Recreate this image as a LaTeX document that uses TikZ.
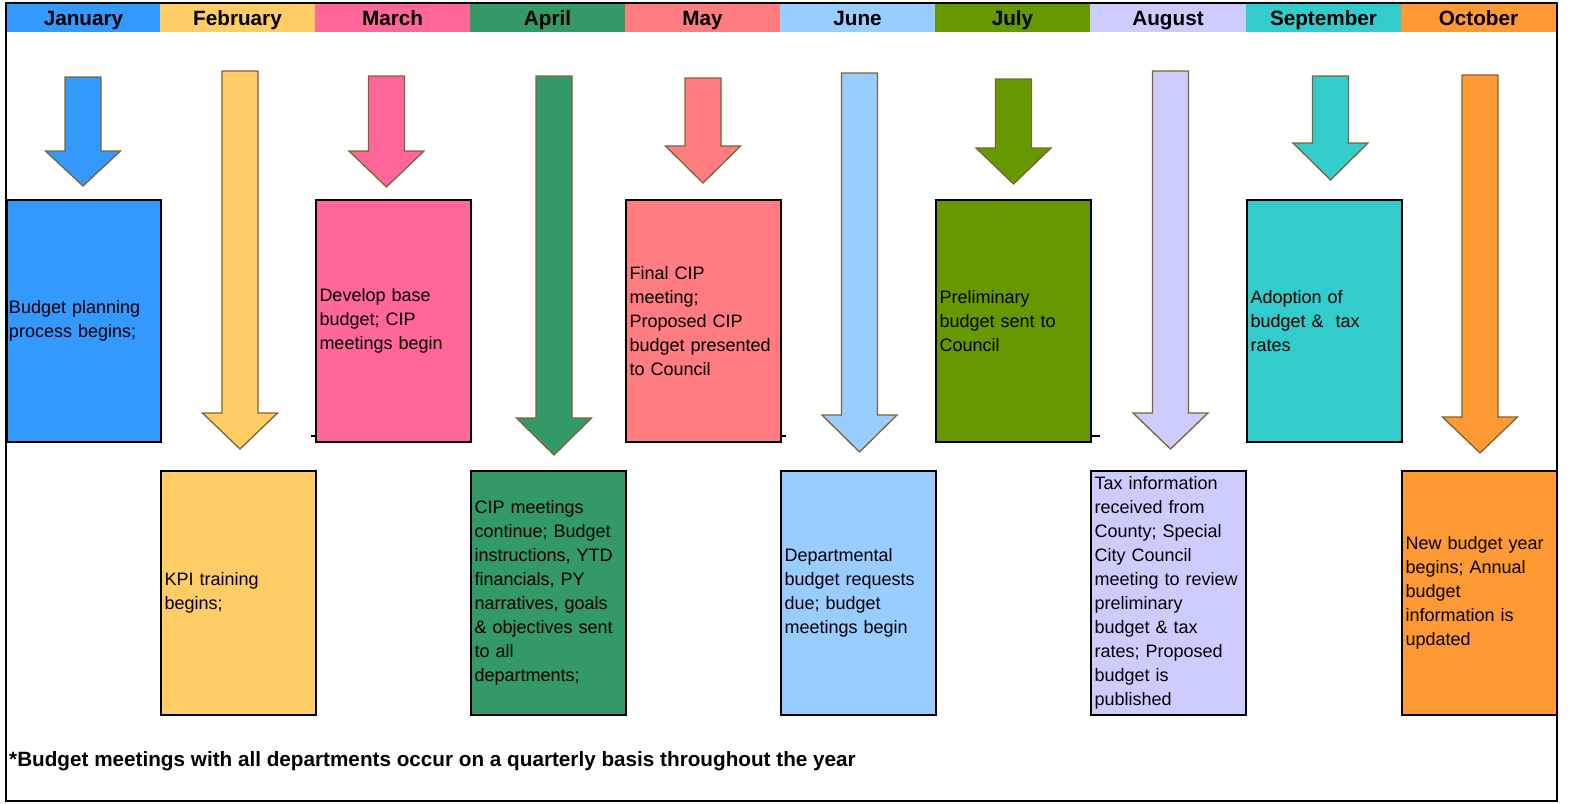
\documentclass[tikz,border=0pt]{standalone}
\usepackage{fontspec}
\setmainfont{Liberation Sans}
\definecolor{janc}{HTML}{3399FF}
\definecolor{febc}{HTML}{FFCC66}
\definecolor{marc}{HTML}{FF6699}
\definecolor{aprc}{HTML}{339966}
\definecolor{mayc}{HTML}{FF7C80}
\definecolor{junc}{HTML}{99CCFF}
\definecolor{julc}{HTML}{669900}
\definecolor{augc}{HTML}{CCCCFF}
\definecolor{sepc}{HTML}{33CCCC}
\definecolor{octc}{HTML}{FF9933}
\definecolor{arrowbrown}{RGB}{125,100,50}
\newcommand\mArrow[5]{%
  \draw[arr, fill=#5] (#1-18,#2) -- (#1+18,#2) -- (#1+18,#3) -- (#1+37.5,#3)
    -- (#1,#4) -- (#1-37.5,#3) -- (#1-18,#3) -- cycle;}
\begin{document}
\begin{tikzpicture}[x=1pt,y=-1pt,
  box/.style={draw=black, line width=2.2pt, inner xsep=3.5pt, align=left,
    text width=148pt, minimum width=155pt, text=black,
    font=\fontsize{18}{24}\selectfont},
  topbox/.style={box, minimum height=242pt},
  botbox/.style={box, minimum height=244pt},
  arr/.style={draw=arrowbrown, line width=1.3pt, line join=miter},
  hdr/.style={font=\fontsize{20.7}{24}\selectfont\bfseries, text=black, inner sep=0pt, anchor=base},
  tick/.style={draw=black, line width=1.5pt}
]
\useasboundingbox (0,0) rectangle (1571,803);
\fill[white] (0,0) rectangle (1571,803);
% header cells
\fill[janc] (7,4) rectangle (160,32);
\fill[febc] (160,4) rectangle (315,32);
\fill[marc] (315,4) rectangle (470,32);
\fill[aprc] (470,4) rectangle (625,32);
\fill[mayc] (625,4) rectangle (780,32);
\fill[junc] (780,4) rectangle (935,32);
\fill[julc] (935,4) rectangle (1090,32);
\fill[augc] (1090,4) rectangle (1246,32);
\fill[sepc] (1246,4) rectangle (1401,32);
\fill[octc] (1401,4) rectangle (1556,32);
\node[hdr] (hjan) at (83.5,25.5) {January};
\node[hdr] (hfeb) at (237.5,25.5) {February};
\node[hdr] (hmar) at (392.5,25.5) {March};
\node[hdr] (hapr) at (547.5,25.5) {April};
\node[hdr] (hmay) at (702.5,25.5) {May};
\node[hdr] (hjun) at (857.5,25.5) {June};
\node[hdr] (hjul) at (1012.5,25.5) {July};
\node[hdr] (haug) at (1168,25.5) {August};
\node[hdr] (hsep) at (1323.5,25.5) {September};
\node[hdr] (hoct) at (1478.5,25.5) {October};
% arrows
\mArrow{83}{77}{151}{186}{janc}
\mArrow{240}{71}{413}{449}{febc}
\mArrow{386.5}{76}{151}{187}{marc}
\mArrow{554}{76}{418}{455}{aprc}
\mArrow{703}{78}{146}{183}{mayc}
\mArrow{859.5}{73}{415}{452}{junc}
\mArrow{1013.5}{79}{148}{184}{julc}
\mArrow{1170.5}{71}{413}{449}{augc}
\mArrow{1330.5}{76}{143}{180}{sepc}
\mArrow{1480}{75}{417}{453}{octc}
% small ticks
\draw[tick] (311,436) -- (316,436);
\draw[tick] (781,436) -- (786,436);
\draw[tick] (1091,436) -- (1100,436);
% top boxes
\node[topbox, fill=janc, minimum width=154pt, text width=150pt, inner xsep=2pt] (bjan) at (84,321) {Budget planning\\process begins;};
\node[topbox, fill=marc] (bmar) at (393.5,321) {Develop base\\budget; CIP\\meetings begin};
\node[topbox, fill=mayc] (bmay) at (703.5,321) {Final CIP\\meeting;\\Proposed CIP\\budget presented\\to Council};
\node[topbox, fill=julc] (bjul) at (1013.5,321) {Preliminary\\budget sent to\\Council};
\node[topbox, fill=sepc] (bsep) at (1324.5,321) {Adoption of\\budget \&\ \ tax\\rates};
% bottom boxes
\node[botbox, fill=febc] (bfeb) at (238.5,593) {KPI training\\begins;};
\node[botbox, fill=aprc] (bapr) at (548.5,593) {CIP meetings\\continue; Budget\\instructions, YTD\\financials, PY\\narratives, goals\\\& objectives sent\\to all\\departments;};
\node[botbox, fill=junc] (bjun) at (858.5,593) {Departmental\\budget requests\\due; budget\\meetings begin};
\node[botbox, fill=augc] (baug) at (1168.5,593) {Tax information\\received from\\County; Special\\City Council\\meeting to review\\preliminary\\budget \& tax\\rates; Proposed\\budget is\\published};
\node[botbox, fill=octc] (boct) at (1479.5,593) {New budget year\\begins; Annual\\budget\\information is\\updated};
% footer
\node[anchor=base west, inner sep=0pt, font=\fontsize{20.7}{24}\selectfont\bfseries] (note) at (9,766) {*Budget meetings with all departments occur on a quarterly basis throughout the year};
% frame
\draw[black, line width=2pt] (6,3) rectangle (1557,801);
\end{tikzpicture}
\end{document}
